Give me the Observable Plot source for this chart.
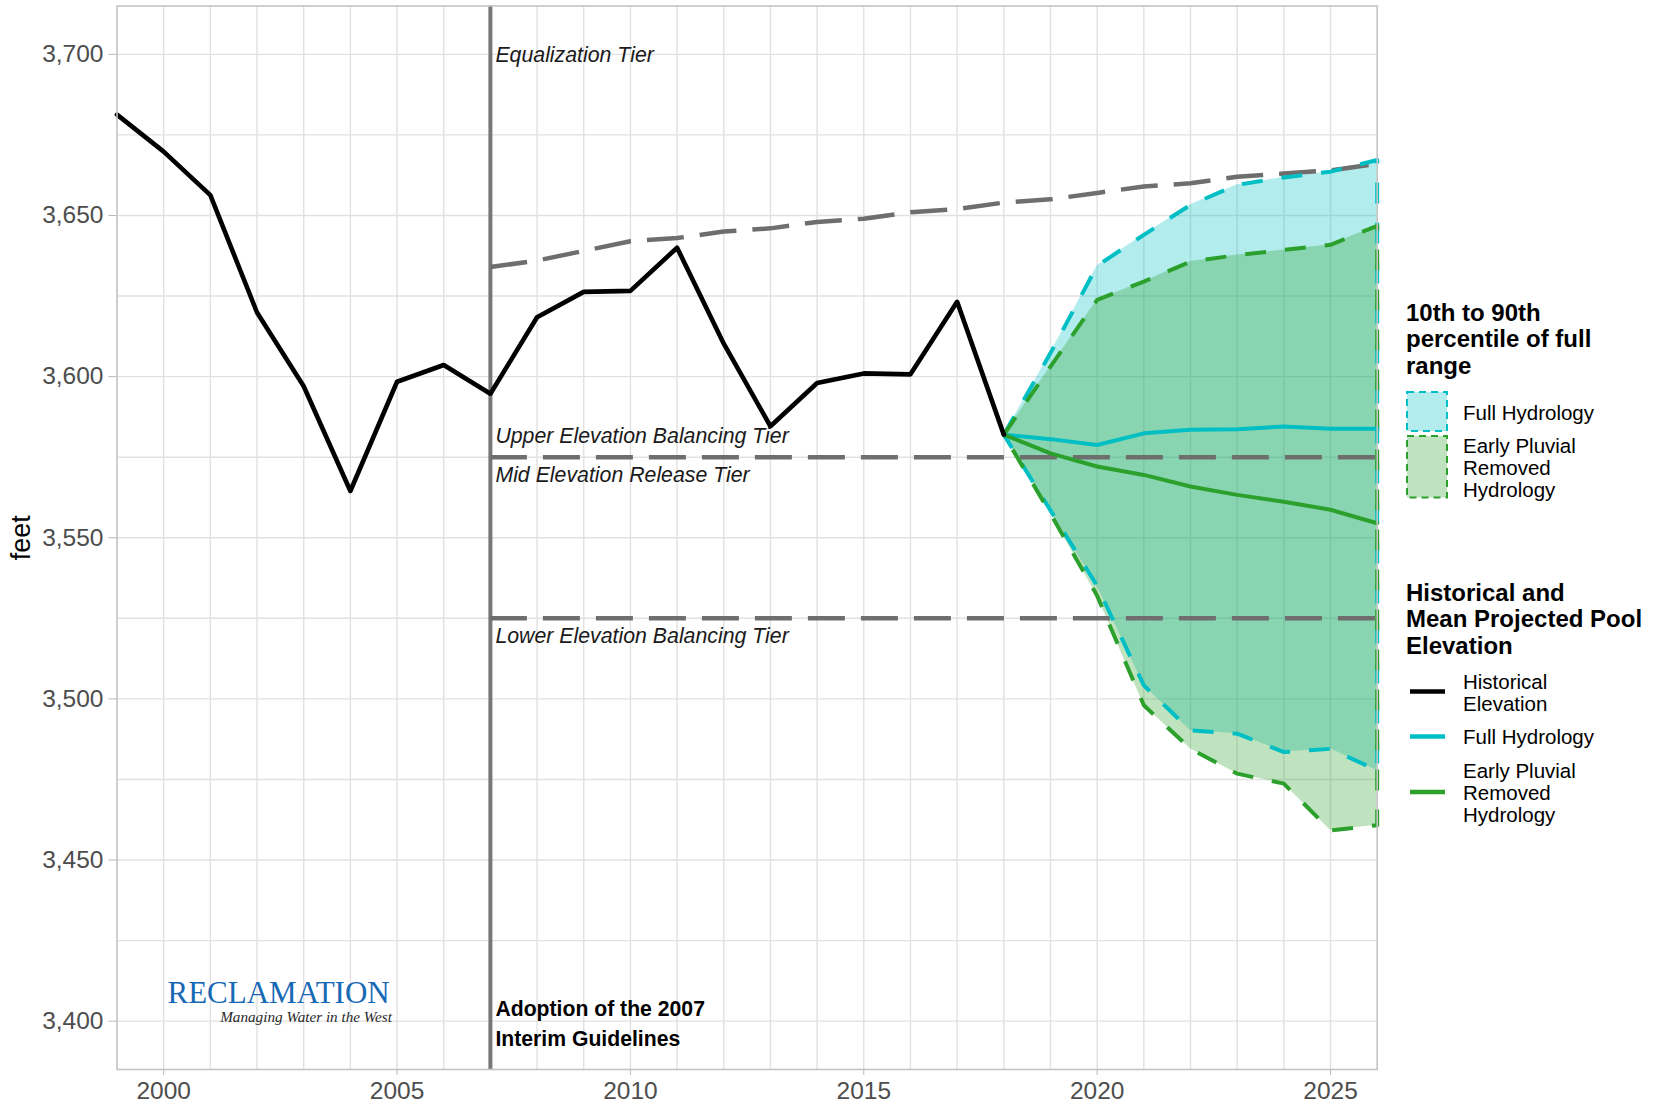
<!DOCTYPE html>
<html>
<head>
<meta charset="utf-8">
<script src="https://cdn.jsdelivr.net/npm/d3@7"></script>
<script src="https://cdn.jsdelivr.net/npm/@observablehq/plot@0.6"></script>
<style>
  html, body { margin: 0; padding: 0; background: #ffffff; }
  #figure { position: relative; width: 1660px; height: 1102px; font-family: "Liberation Sans", Arial, sans-serif; color: #000; }
  #chart { position: absolute; left: 0; top: 0; }
  .lg { position: absolute; white-space: pre; color: #000; }
  .lg-title { font-weight: bold; font-size: 24px; line-height: 26.5px; }
  .lg-label { font-size: 20.5px; line-height: 22.2px; }
  #legend svg { position: absolute; left: 0; top: 0; overflow: visible; }
</style>
</head>
<body>
<div id="figure">
  <div id="chart"></div>
  <div id="legend"></div>
</div>
<script>
// Lake Powell end-of-year pool elevation (feet): historical record
const histYears = [1999, 2000, 2001, 2002, 2003, 2004, 2005, 2006, 2007, 2008,
                   2009, 2010, 2011, 2012, 2013, 2014, 2015, 2016, 2017, 2018];
const histElev  = [3681.3, 3669.8, 3656.3, 3619.9, 3597.0, 3564.5, 3598.4, 3603.6, 3594.7, 3618.4,
                   3626.3, 3626.6, 3640.0, 3610.2, 3584.6, 3598.0, 3601.0, 3600.7, 3623.2, 3582.0];

// Equalization tier elevation under the 2007 Interim Guidelines
const eqYears = [2007, 2008, 2009, 2010, 2011, 2012, 2013, 2014, 2015, 2016,
                 2017, 2018, 2019, 2020, 2021, 2022, 2023, 2024, 2025, 2026];
const eqElev  = [3634, 3636, 3639, 3642, 3643, 3645, 3646, 3648, 3649, 3651,
                 3652, 3654, 3655, 3657, 3659, 3660, 3662, 3663, 3664, 3666];

// Fixed tier boundaries (Upper/Mid and Mid/Lower)
const tierLevels = [3575, 3525];
const tierStart = 2007;
const tierEnd = 2026;
const adoptionYear = 2007;

// Projections: mean and 10th / 90th percentiles
const projYears = [2018, 2019, 2020, 2021, 2022, 2023, 2024, 2025, 2026];
const fullMean = [3582.0, 3580.6, 3578.8, 3582.4, 3583.5, 3583.7, 3584.5, 3583.8, 3583.8];
const fullP90  = [3582.0, 3607.3, 3634.4, 3644.0, 3653.3, 3659.5, 3661.8, 3663.6, 3667.2];
const fullP10  = [3582.0, 3558.5, 3535.0, 3504.2, 3490.2, 3489.2, 3483.5, 3484.5, 3477.8];
const epMean   = [3582.0, 3576.2, 3572.1, 3569.5, 3565.9, 3563.3, 3561.2, 3558.7, 3554.5];
const epP90    = [3582.0, 3603.1, 3623.8, 3629.5, 3635.7, 3637.7, 3639.3, 3640.9, 3646.8];
const epP10    = [3582.0, 3557.5, 3532.0, 3498.0, 3484.5, 3476.8, 3473.7, 3459.2, 3460.8];

// Axis ticks and grid
const xTickYears = [2000, 2005, 2010, 2015, 2020, 2025];
const xGridYears = [2000, 2001, 2002, 2003, 2004, 2005, 2006, 2007, 2008, 2009, 2010, 2011, 2012,
                    2013, 2014, 2015, 2016, 2017, 2018, 2019, 2020, 2021, 2022, 2023, 2024, 2025];
const yTickLevels = [3400, 3450, 3500, 3550, 3600, 3650, 3700];
const yGridLevels = [3400, 3425, 3450, 3475, 3500, 3525, 3550, 3575, 3600, 3625, 3650, 3675, 3700];

// Labels
const tierNames = ["Equalization Tier", "Upper Elevation Balancing Tier",
                   "Mid Elevation Release Tier", "Lower Elevation Balancing Tier"];
const tierNameLevels = [3700, 3575, 3575, 3525];
const adoptionText = "Adoption of the 2007\nInterim Guidelines";
const adoptionLevel = 3400;
const yAxisTitle = "feet";
const logoName = "RECLAMATION";
const logoMotto = "Managing Water in the West";
const bandLegendTitle = "10th to 90th\npercentile of full\nrange";
const lineLegendTitle = "Historical and\nMean Projected Pool\nElevation";
const seriesNames = ["Historical\nElevation", "Full Hydrology", "Early Pluvial\nRemoved\nHydrology"];

const histColor = "#000000";
const fullColor = "#00BFC4";
const epColor = "#2CA02C";
const tierColor = "#6e6e6e";

// Tables built from the arrays above
const histRows = histYears.map((year, i) => ({year, elev: histElev[i]}));
const eqRows = eqYears.map((year, i) => ({year, elev: eqElev[i]}));
const projRows = projYears.map((year, i) => ({
  year, fullMean: fullMean[i], fullP10: fullP10[i], fullP90: fullP90[i],
  epMean: epMean[i], epP10: epP10[i], epP90: epP90[i]
}));
// Closed outline of a band: upper edge forward, lower edge back
const ring = (hi, lo) =>
  projYears.map((year, i) => ({year, elev: hi[i]}))
    .concat(projYears.map((year, i) => ({year, elev: lo[i]})).reverse());
const fullRing = ring(fullP90, fullP10);
const epRing = ring(epP90, epP10);

const tierTextDy = [1, -20.7, 17.7, 17.5];
const marginLeft = 116.5;
const marginBottom = 33;
const chartHeight = 1102;

const chart = Plot.plot({
  width: 1380,
  height: chartHeight,
  marginLeft,
  marginRight: 3.3,
  marginTop: 5.5,
  marginBottom,
  style: {fontFamily: "'Liberation Sans', Arial, sans-serif", background: "#ffffff", overflow: "visible"},
  x: {domain: [1999, 2026]},
  y: {domain: [3385, 3715]},
  marks: [
    // panel grid
    Plot.ruleX(xGridYears, {stroke: "#e1e1e1", strokeWidth: 1.4}),
    Plot.ruleY(yGridLevels, {stroke: "#e1e1e1", strokeWidth: 1.4}),

    // 10th-90th percentile bands
    Plot.areaY(projRows, {x: "year", y1: "fullP10", y2: "fullP90", fill: fullColor, fillOpacity: 0.3}),
    Plot.areaY(projRows, {x: "year", y1: "epP10", y2: "epP90", fill: epColor, fillOpacity: 0.3}),

    // 2007 Interim Guidelines adoption
    Plot.ruleX([adoptionYear], {stroke: "#777777", strokeWidth: 4}),

    // operating tier boundaries
    Plot.ruleY(tierLevels, {x1: tierStart, x2: tierEnd, stroke: tierColor, strokeWidth: 4.5,
      strokeDasharray: "37,16"}),
    Plot.line(eqRows, {x: "year", y: "elev", stroke: tierColor, strokeWidth: 4.5,
      strokeDasharray: "37,16", strokeLinecap: "butt"}),

    // band outlines
    Plot.line(fullRing, {x: "year", y: "elev", stroke: fullColor, strokeWidth: 4,
      strokeDasharray: "21,19", strokeLinecap: "butt"}),
    Plot.line(epRing, {x: "year", y: "elev", stroke: epColor, strokeWidth: 4,
      strokeDasharray: "21,19", strokeLinecap: "butt"}),

    // mean projections
    Plot.line(projRows, {x: "year", y: "fullMean", stroke: fullColor, strokeWidth: 4}),
    Plot.line(projRows, {x: "year", y: "epMean", stroke: epColor, strokeWidth: 4}),

    // historical elevation
    Plot.line(histRows, {x: "year", y: "elev", stroke: histColor, strokeWidth: 4.6}),

    Plot.frame({stroke: "#c4c4c4", strokeWidth: 1.6}),

    Plot.axisX({ticks: xTickYears, tickFormat: d => String(d), label: null, tickSize: 6,
      tickPadding: 6.5, stroke: "#b8b8b8", fill: "#4d4d4d", fontSize: 24.5}),
    Plot.axisY({ticks: yTickLevels, tickFormat: d3.format(","), label: null, tickSize: 8,
      tickPadding: 5.5, stroke: "#b8b8b8", fill: "#4d4d4d", fontSize: 24.5}),

    Plot.text([yAxisTitle], {frameAnchor: "left", text: d => d, rotate: -90, dx: -95.5,
      fontSize: 27, fill: "#000", textAnchor: "middle"}),

    // tier names
    ...tierNames.map((name, i) => Plot.text([name], {
      x: adoptionYear, y: tierNameLevels[i], text: d => d, dx: 5, dy: tierTextDy[i],
      textAnchor: "start", fontSize: 21.3, fontStyle: "italic", fill: "#1a1a1a"
    })),
    Plot.text([adoptionText], {x: adoptionYear, y: adoptionLevel, text: d => d, dx: 5,
      textAnchor: "start", lineAnchor: "middle", lineHeight: 1.45, fontSize: 21.2,
      fontWeight: "bold", fill: "#000"})
  ]
});

// agency wordmark in the lower-left of the panel
const svg = d3.select(chart);
const logo = svg.append("text")
  .attr("font-family", "'Liberation Serif', 'Times New Roman', serif")
  .attr("transform", `translate(${marginLeft},${chartHeight - marginBottom})`);
logo.append("tspan").attr("x", 51).attr("y", -66.5).attr("font-size", 31)
  .attr("text-anchor", "start").attr("fill", "#1769b5").text(logoName);
logo.append("tspan").attr("x", 275.5).attr("y", -47).attr("font-size", 15.2)
  .attr("font-style", "italic").attr("text-anchor", "end").attr("fill", "#2a2a2a").text(logoMotto);

document.getElementById("chart").appendChild(chart);

// Legend
const legend = document.getElementById("legend");
function addText(cls, text, left, top) {
  const d = document.createElement("div");
  d.className = "lg " + cls;
  d.style.left = left + "px";
  d.style.top = top + "px";
  d.textContent = text;
  legend.appendChild(d);
}
addText("lg-title", bandLegendTitle, 1406, 299.5);
addText("lg-label", seriesNames[1], 1463, 401.9);
addText("lg-label", seriesNames[2], 1463, 434.7);
addText("lg-title", lineLegendTitle, 1406, 579.7);
addText("lg-label", seriesNames[0], 1463, 670.8);
addText("lg-label", seriesNames[1], 1463, 725.9);
addText("lg-label", seriesNames[2], 1463, 759.7);

const keys = d3.create("svg").attr("width", 1660).attr("height", 1102);
keys.append("rect").attr("x", 1407).attr("y", 392).attr("width", 40).attr("height", 39)
  .attr("fill", fullColor).attr("fill-opacity", 0.3).attr("stroke", fullColor)
  .attr("stroke-width", 2).attr("stroke-dasharray", "7,5");
keys.append("rect").attr("x", 1407).attr("y", 436).attr("width", 40).attr("height", 61.5)
  .attr("fill", epColor).attr("fill-opacity", 0.3).attr("stroke", epColor)
  .attr("stroke-width", 2).attr("stroke-dasharray", "7,5");
[[histColor, 691.5], [fullColor, 736.5], [epColor, 792]].forEach(([c, y]) => {
  keys.append("line").attr("x1", 1410).attr("x2", 1445).attr("y1", y).attr("y2", y)
    .attr("stroke", c).attr("stroke-width", 4.5);
});
legend.appendChild(keys.node());
</script>
</body>
</html>
